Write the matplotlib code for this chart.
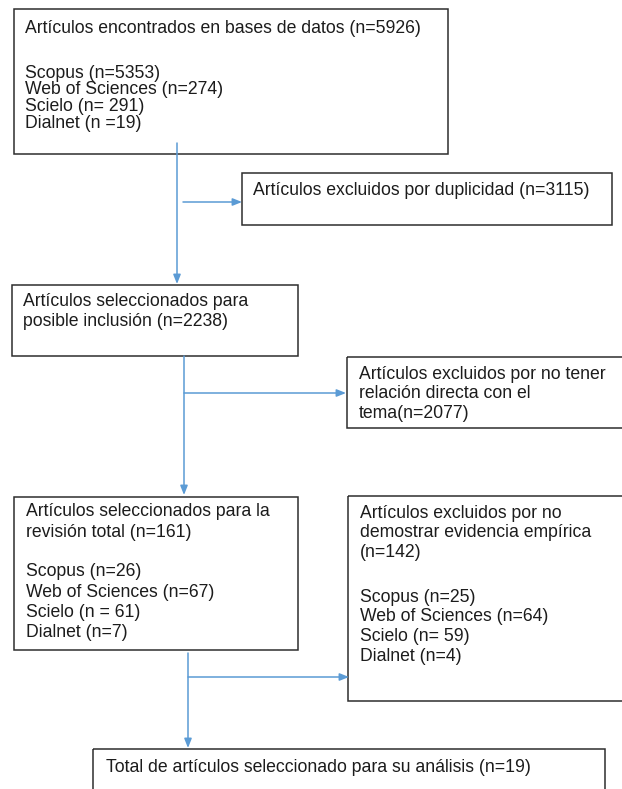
import matplotlib
matplotlib.use('Agg')
import matplotlib.pyplot as plt
from matplotlib.patches import Rectangle

################################################################################
# contenido del diagrama

bases = ['Scopus', 'Web of Sciences', 'Scielo', 'Dialnet']
n_encontrados = ['(n=5353)', '(n=274)', '(n= 291)', '(n =19)']
n_revision = ['(n=26)', '(n=67)', '(n = 61)', '(n=7)']
n_empirica = ['(n=25)', '(n=64)', '(n= 59)', '(n=4)']

titulo_encontrados = ['Artículos encontrados en bases de datos (n=5926)']
titulo_duplicidad = ['Artículos excluidos por duplicidad (n=3115)']
titulo_posible = ['Artículos seleccionados para', 'posible inclusión (n=2238)']
titulo_no_tener = ['Artículos excluidos por no tener', 'relación directa con el', 'tema(n=2077)']
titulo_revision = ['Artículos seleccionados para la', 'revisión total (n=161)']
titulo_empirica = ['Artículos excluidos por no', 'demostrar evidencia empírica', '(n=142)']
titulo_total = ['Total de artículos seleccionado para su análisis (n=19)']

def con_bases(valores):
	return ['{} {}'.format(b, v) for b, v in zip(bases, valores)]

################################################################################
# cajas: (x0, y0, x1, y1) en pixeles, grupos de texto, x del texto, y de cada grupo, paso

cajas = [
	((14, 9, 448, 154), [titulo_encontrados, con_bases(n_encontrados)], 25, [28, 73], 16.7),
	((242, 173, 612, 225), [titulo_duplicidad], 253, [190], 20),
	((12, 285, 298, 356), [titulo_posible], 23, [301], 20),
	((347, 357, 640, 428), [titulo_no_tener], 359, [374], 19.5),
	((14, 497, 298, 650), [titulo_revision, con_bases(n_revision)], 26, [512, 572], 20.3),
	((348, 496, 640, 701), [titulo_empirica, con_bases(n_empirica)], 360, [513, 597], 19.8),
	((93, 749, 605, 820), [titulo_total], 106, [767], 20),
]

# flechas: inicio -> punta
flechas = [
	((177, 143), (177, 284)),
	((183, 202), (242, 202)),
	((184, 356), (184, 495)),
	((184, 393), (346, 393)),
	((188, 653), (188, 748)),
	((188, 677), (349, 677)),
]

azul = '#5b9bd5'
negro = '#1c1c1c'

################################################################################

if __name__ == '__main__':

	plt.rcParams['font.family'] = ['Liberation Sans', 'DejaVu Sans']

	fig = plt.figure(figsize = (6.22, 7.89), dpi = 100)
	ax = fig.add_axes([0, 0, 1, 1])
	ax.set_xlim(0, 622)
	ax.set_ylim(789, 0)
	ax.axis('off')

	for (x0, y0, x1, y1), grupos, xt, ys, paso in cajas:
		ax.add_patch(Rectangle((x0, y0), x1 - x0, y1 - y0, fill = False,
			edgecolor = '#2e2e2e', linewidth = 1.1, clip_on = True))
		for lineas, y in zip(grupos, ys):
			for i, linea in enumerate(lineas):
				ax.text(xt, y + i * paso, linea, fontsize = 12.7, color = negro,
					ha = 'left', va = 'center')

	for inicio, punta in flechas:
		ax.annotate('', xy = punta, xytext = inicio,
			arrowprops = dict(arrowstyle = '-|>,head_length=0.55,head_width=0.22',
				color = azul, linewidth = 1.1, shrinkA = 0, shrinkB = 0))

	fig.savefig('out.png', dpi = 100)
